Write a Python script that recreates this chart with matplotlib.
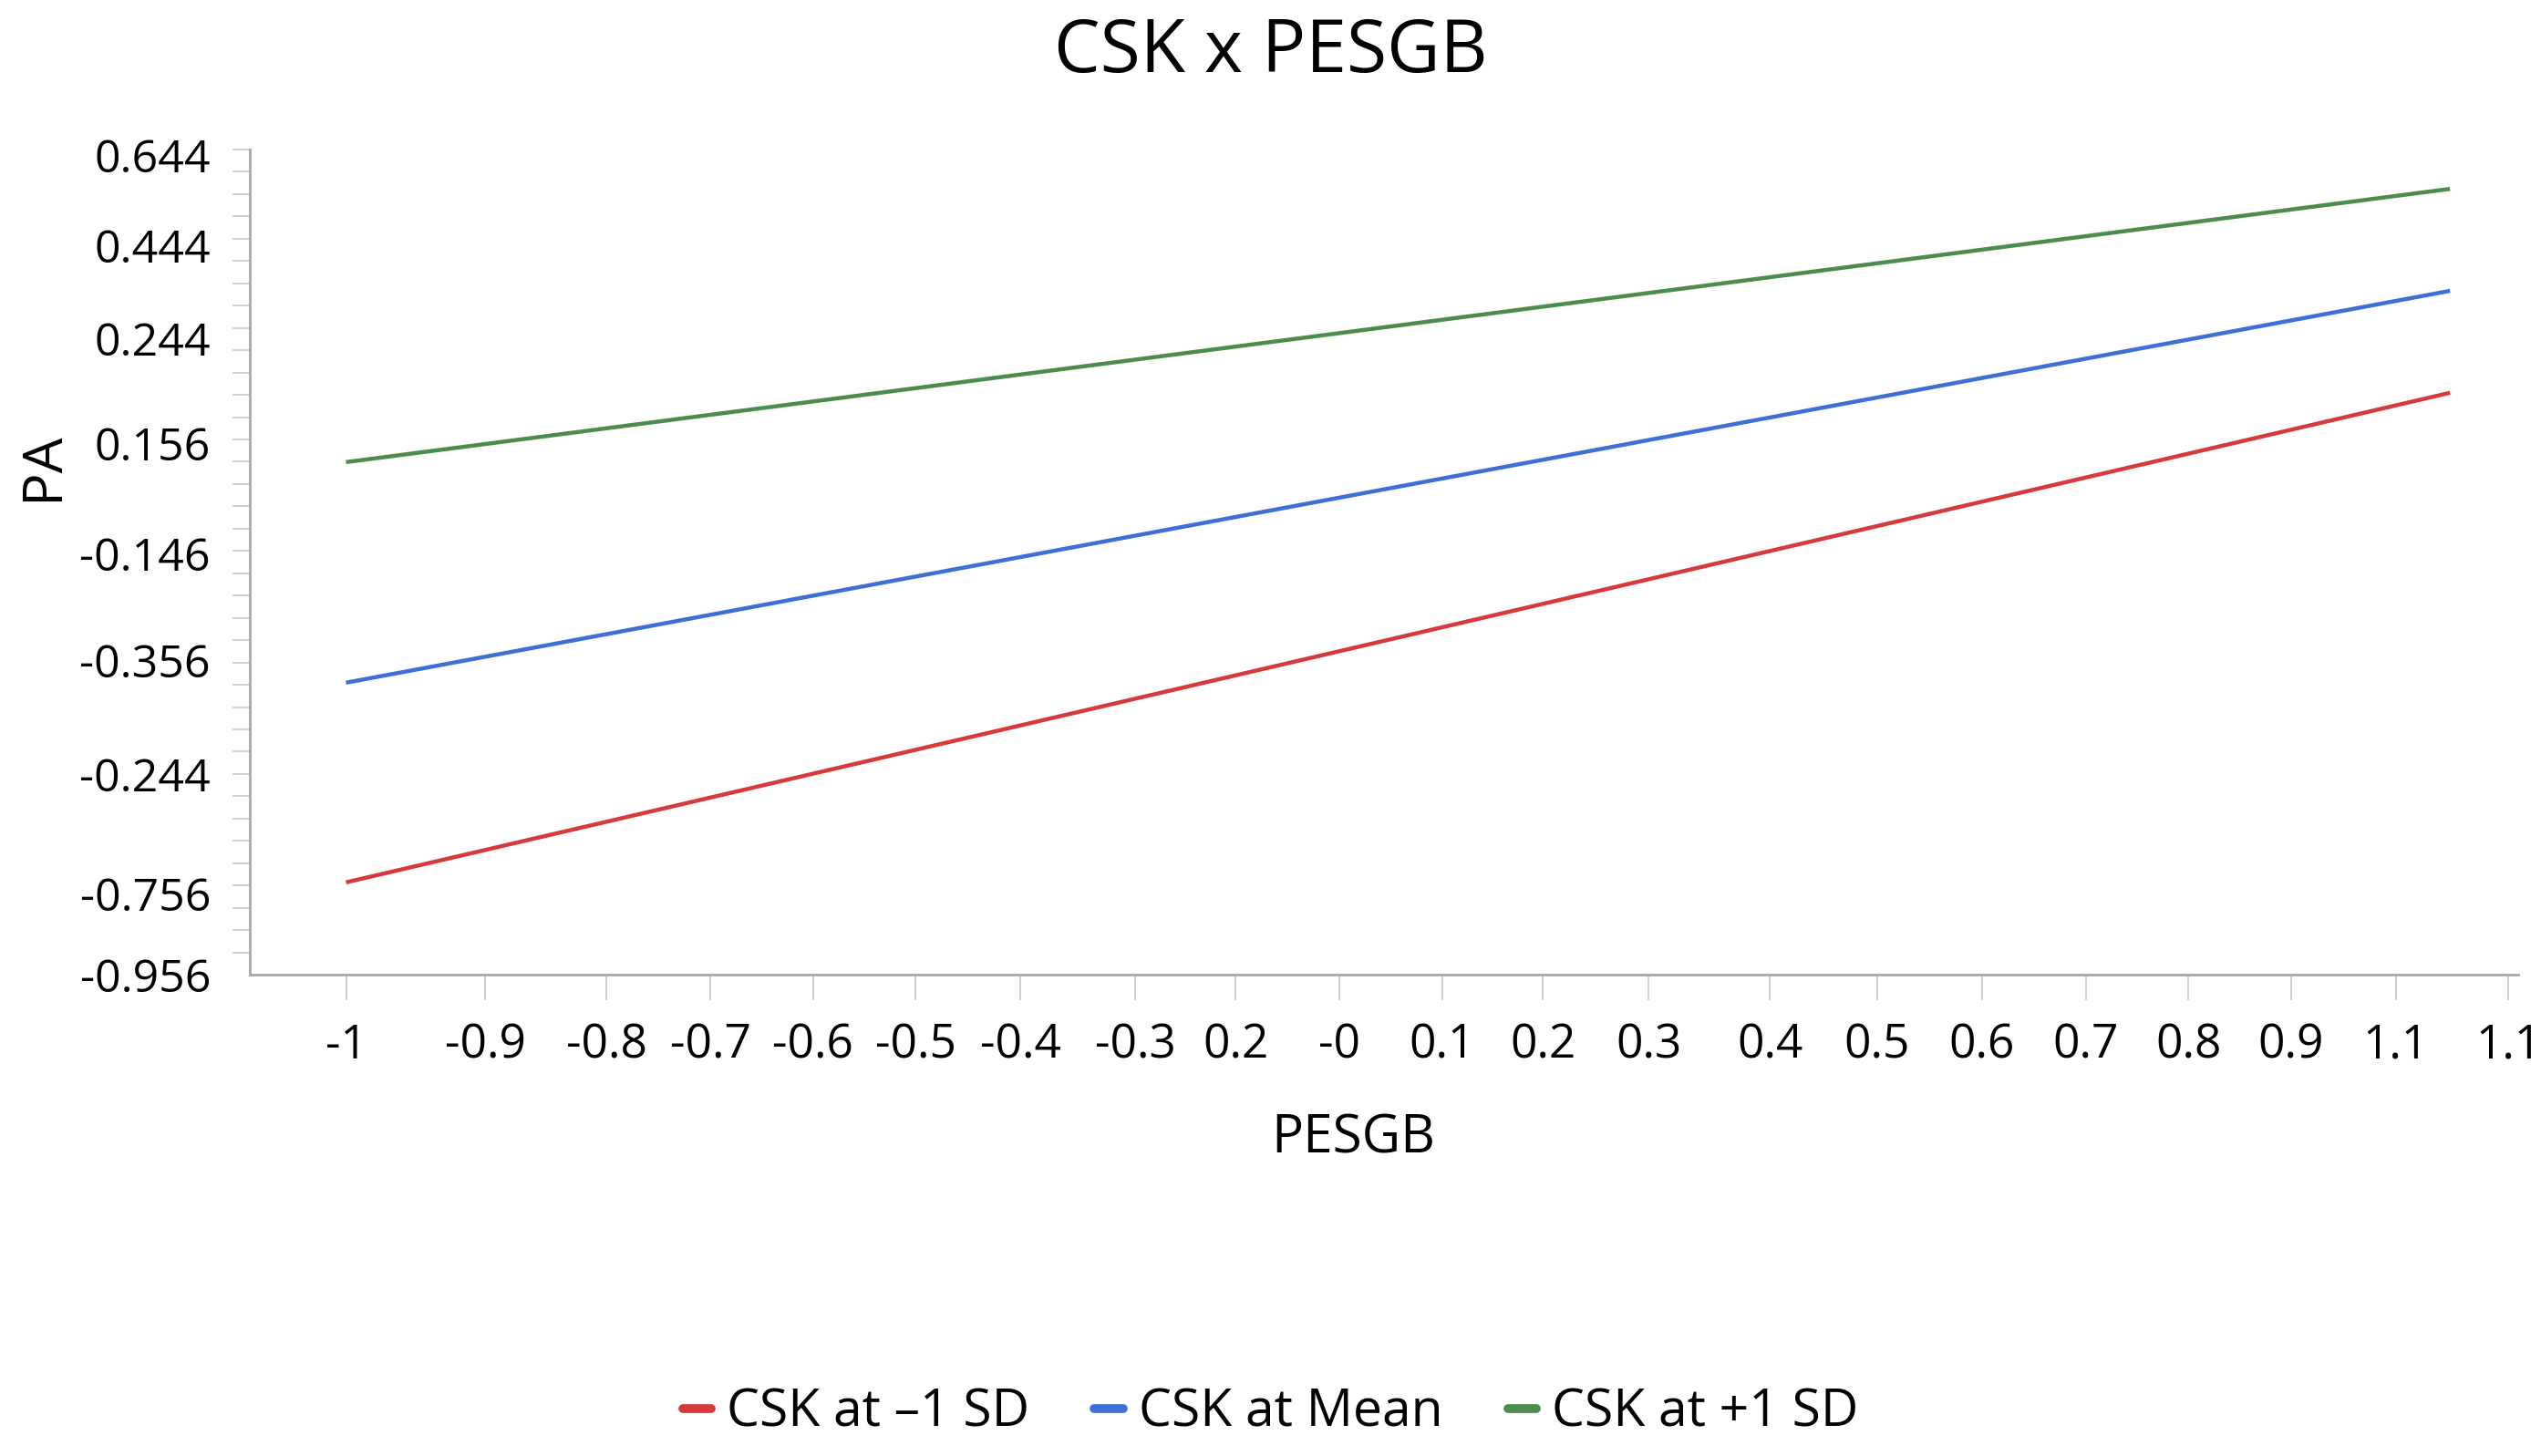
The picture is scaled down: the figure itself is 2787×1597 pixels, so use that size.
import numpy as np
import matplotlib.pyplot as plt
from matplotlib.lines import Line2D

# tick labels as printed on the chart (positions are where they sit on the axis)
y_labels = ['0.644', '0.444', '0.244', '0.156', '-0.146', '-0.356', '-0.244', '-0.756', '-0.956']
y_pos = [0.644, 0.471, 0.2925, 0.0914, -0.120, -0.3247, -0.5433, -0.7724, -0.928]

x_labels = ['-1', '-0.9', '-0.8', '-0.7', '-0.6', '-0.5', '-0.4', '-0.3', '0.2', '-0',
            '0.1', '0.2', '0.3', '0.4', '0.5', '0.6', '0.7', '0.8', '0.9', '1.1', '1.1']
x_pos = [-1.0, -0.871, -0.759, -0.663, -0.568, -0.473, -0.376, -0.270, -0.177, -0.081,
         0.014, 0.107, 0.205, 0.317, 0.416, 0.513, 0.609, 0.704, 0.799, 0.896, 1.0]

# simple slopes: PESGB endpoints and PA values at each CSK level
pesgb = [-1.0, 0.946]
pa_low = [-0.751, 0.188]
pa_mean = [-0.368, 0.3835]
pa_high = [0.055, 0.579]

series = ['CSK at \u20131 SD', 'CSK at Mean', 'CSK at +1 SD']
colors = ['#d63a3a', '#3d6fd6', '#4c8c4c']

plt.rcParams['font.family'] = ['Open Sans', 'DejaVu Sans']

fig = plt.figure(figsize=(27.87, 15.97), dpi=100)
ax = fig.add_axes([0.0983, 0.3306, 0.8927, 0.5667])

for vals, name, c in zip([pa_low, pa_mean, pa_high], series, colors):
    ax.plot(pesgb, vals, color=c, lw=3.2, label=name, solid_capstyle='butt')

ax.set_xlim(-1.089, 1.009)
ax.set_ylim(-0.928, 0.6545)

ax.set_yticks(y_pos)
ax.set_yticklabels(y_labels)
ax.set_yticks(np.linspace(-0.928, 0.6545, 38), minor=True)
ax.tick_params(axis='y', which='major', length=0, pad=31, labelsize=36)
ax.tick_params(axis='y', which='minor', length=14, width=1.2, color='#c8c8c8')

ax.set_xticks(x_pos)
ax.set_xticklabels(x_labels)
ax.tick_params(axis='x', which='major', length=20, width=1.2, color='#c8c8c8', pad=18, labelsize=37)

for s in ['top', 'right']:
    ax.spines[s].set_visible(False)
for s in ['left', 'bottom']:
    ax.spines[s].set_color('#a8a8a8')
    ax.spines[s].set_linewidth(2)

fig.suptitle('CSK x PESGB', x=0.5, y=0.964, va='center', fontsize=58)
fig.text(0.5325, 1 - 1249 / 1597, 'PESGB', ha='center', va='center', fontsize=42)
fig.text(47 / 2787, 1 - 511 / 1597, 'PA', ha='center', va='center', rotation=90, fontsize=44)

handles = [Line2D([], [], color=c, lw=7, solid_capstyle='round') for c in colors]
fig.legend(handles, series, loc='center', bbox_to_anchor=(0.5, 1 - 1550 / 1597), ncol=3,
           frameon=False, fontsize=41, handlelength=0.55, handletextpad=0.3, columnspacing=1.25)

fig.savefig('out.png', dpi=100, facecolor='white')
